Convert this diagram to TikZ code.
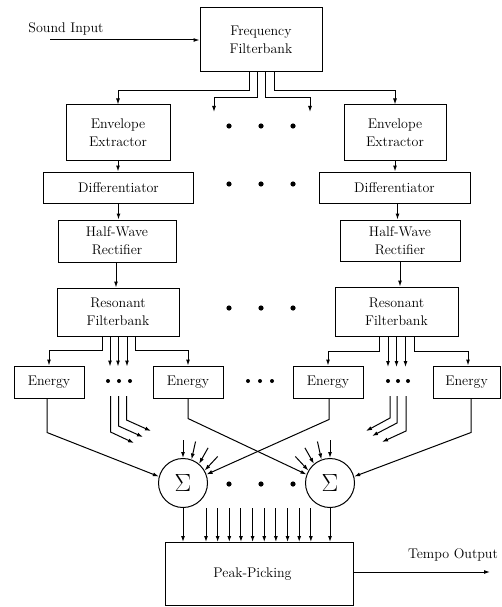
\documentclass[tikz,border=0pt]{standalone}
\usepackage{tikz}
\usetikzlibrary{arrows.meta,calc}

\begin{document}
\begin{tikzpicture}[x=1pt,y=-1pt,
    blk/.style={draw,line width=1pt,align=center,inner sep=0pt,font=\fontsize{14}{18}\selectfont},
    lbl/.style={font=\fontsize{14}{18}\selectfont},
    arr/.style={line width=1pt,-{Latex[length=6pt,width=4pt]}},
    sumnode/.style={draw,circle,line width=1pt,minimum size=49pt,inner sep=0pt,font=\fontsize{24}{24}\selectfont}]
    \useasboundingbox (0,0) rectangle (501,607);

    % Banc de filtres et entrée
    \node[blk,minimum width=122pt,minimum height=64pt] (ff) at (261,40) {Frequency\\Filterbank};
    \coordinate (sin) at (50,40);
    \node[lbl] (sinlbl) at (66,29) {Sound Input};
    \draw[arr] (sin) -- (ff.west);

    % Canal gauche
    \node[blk,minimum width=104pt,minimum height=55pt] (envL) at (118,132.5) {Envelope\\Extractor};
    \node[blk,minimum width=150pt,minimum height=31pt] (diffL) at (118.5,187.5) {Differentiator};
    \node[blk,minimum width=118pt,minimum height=42pt] (hwL) at (117,241) {Half-Wave\\Rectifier};
    \node[blk,minimum width=122pt,minimum height=48pt] (rfL) at (118,312) {Resonant\\Filterbank};

    % Canal droit
    \node[blk,minimum width=102pt,minimum height=55pt] (envR) at (395,132.5) {Envelope\\Extractor};
    \node[blk,minimum width=151pt,minimum height=31pt] (diffR) at (394.5,187.5) {Differentiator};
    \node[blk,minimum width=120pt,minimum height=41pt] (hwR) at (400,240.5) {Half-Wave\\Rectifier};
    \node[blk,minimum width=123pt,minimum height=49pt] (rfR) at (396.5,311.5) {Resonant\\Filterbank};

    % Sorties du banc de filtres
    \coordinate (fa) at (214,112);
    \coordinate (fb) at (310,112);
    \draw[arr] ([xshift=-12pt]ff.south) -- ++(0,18) -| (envL.north);
    \draw[arr] ([xshift=-4pt]ff.south) -- ++(0,25) -| (fa);
    \draw[arr] ([xshift=4pt]ff.south) -- ++(0,25) -| (fb);
    \draw[arr] ([xshift=13pt]ff.south) -- ++(0,18) -| (envR.north);

    % Liaisons verticales
    \draw[arr] (envL.south) -- (envL.south |- diffL.north);
    \draw[arr] (diffL.south) -- (diffL.south |- hwL.north);
    \draw[arr] ([xshift=-1pt]hwL.south) -- ([xshift=-1pt]hwL.south |- rfL.north);
    \draw[arr] (envR.south) -- (envR.south |- diffR.north);
    \draw[arr] ([xshift=3pt]diffR.south) -- ([xshift=3pt]diffR.south |- hwR.north);
    \draw[arr] (hwR.south) -- (hwR.south |- rfR.north);

    % Points de suspension
    \foreach \y in {126,184,308,484} {
        \foreach \x in {229,261,293} {
            \fill (\x,\y) circle (2.6pt);
        }
    }
    \foreach \x in {108,119,130,248,260,272,388,398,408} {
        \fill (\x,381) circle (2pt);
    }

    % Blocs d'énergie
    \node[blk,minimum width=70pt,minimum height=32pt] (e1) at (49,382) {Energy};
    \node[blk,minimum width=70pt,minimum height=32pt] (e2) at (188,382) {Energy};
    \node[blk,minimum width=70pt,minimum height=32pt] (e3) at (328,382) {Energy};
    \node[blk,minimum width=67pt,minimum height=32pt] (e4) at (466.5,382) {Energy};

    % Sorties des bancs résonants
    \draw[arr] ([xshift=-16pt]rfL.south) -- ++(0,14) -| (e1.north);
    \foreach \dx in {-8,0,9} {
        \draw[arr] ([xshift=\dx pt]rfL.south) -- ++(0,30);
    }
    \draw[arr] ([xshift=17pt]rfL.south) -- ++(0,14) -| (e2.north);
    \draw[arr] ([xshift=-17pt]rfR.south) -- ++(0,14.5) -| (e3.north);
    \foreach \dx in {-8.5,0,9} {
        \draw[arr] ([xshift=\dx pt]rfR.south) -- ++(0,30.5);
    }
    \draw[arr] ([xshift=18pt]rfR.south) -- ++(0,14.5) -| ([xshift=1.5pt]e4.north);

    % Sommateurs
    \node[sumnode] (sigL) at (183,483) {$\Sigma$};
    \node[sumnode] (sigR) at (330,483) {$\Sigma$};

    % Autres canaux
    \foreach \x/\ya/\xb/\yb in {110.5/432/134/443, 118.5/426/143/437, 126.5/420/151/431} {
        \draw[arr] (\x,396) -- (\x,\ya) -- (\xb,\yb);
    }
    \foreach \x/\ya/\xb/\yb in {390/418/366/431, 397/423/372/436, 406/431/382/442} {
        \draw[arr] (\x,396) -- (\x,\ya) -- (\xb,\yb);
    }
    \foreach \a/\dx/\dy in {90/0/-18, 70/4/-18, 50/9/-16, 30/13/-14} {
        \draw[arr] ($(sigL.\a)+(\dx,\dy)$) -- (sigL.\a);
    }
    \foreach \a/\dx/\dy in {90/0/-18, 110/-4/-18, 130/-9/-16, 150/-13/-14} {
        \draw[arr] ($(sigR.\a)+(\dx,\dy)$) -- (sigR.\a);
    }

    % Energie vers sommateurs
    \draw[arr] ([xshift=-2pt]e1.south) -- ++(0,34) -- (sigL.165);
    \draw[arr] (e2.south) -- ++(0,20) -- (sigR.160);
    \draw[arr] ([xshift=1pt]e3.south) -- ++(0,21) -- (sigL.20);
    \draw[arr] ([xshift=4.5pt]e4.south) -- ++(0,34) -- (sigR.15);

    % Détection de pics
    \node[blk,minimum width=188pt,minimum height=63pt] (pp) at (259,574) {\hspace*{-13pt}Peak-Picking};
    \draw[arr] (sigL.south) -- (sigL.south |- pp.north);
    \draw[arr] (sigR.south) -- (sigR.south |- pp.north);
    \foreach \i in {0,...,9} {
        \pgfmathsetmacro{\xpos}{206+11.65*\i}
        \draw[arr] (\xpos,508) -- ++(0,34);
    }

    % Sortie
    \coordinate (tout) at (490,572);
    \node[lbl] (toutlbl) at (453,555) {Tempo Output};
    \draw[arr] (pp.east |- tout) -- (tout);
\end{tikzpicture}
\end{document}
